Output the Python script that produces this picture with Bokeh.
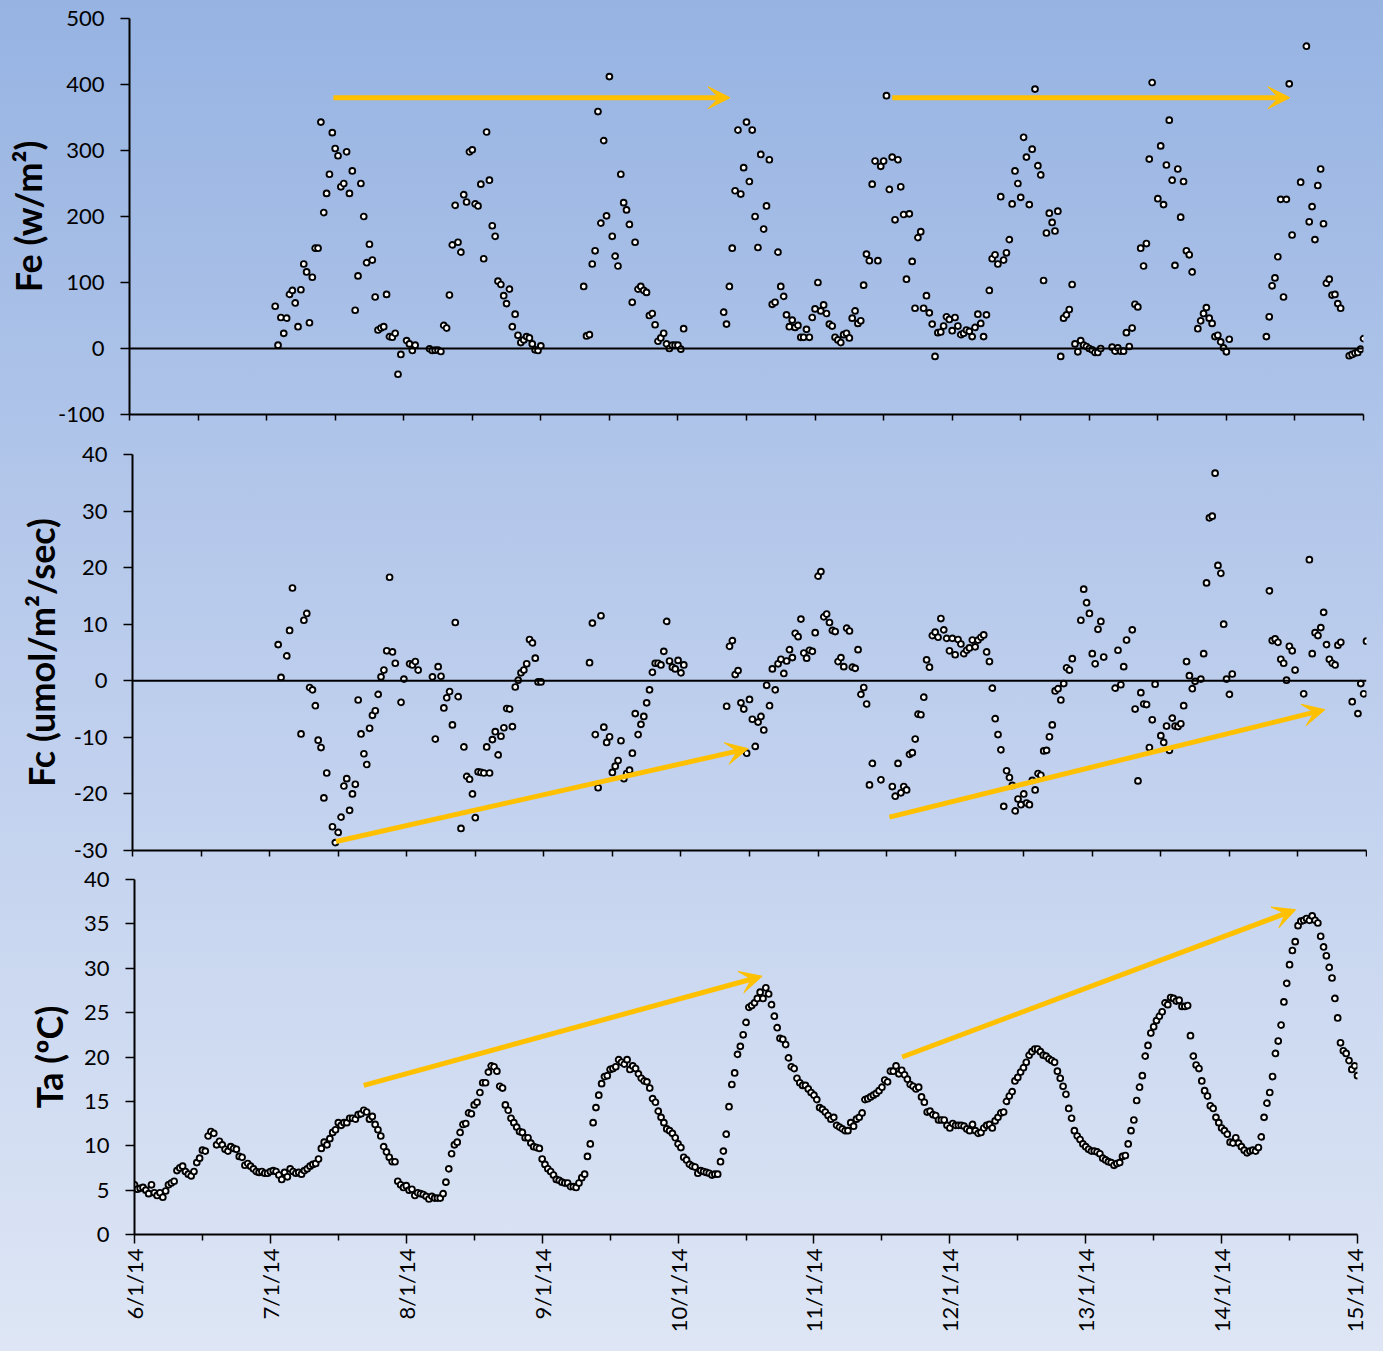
import math
from bokeh.plotting import figure
from bokeh.layouts import column, row
from bokeh.models import FixedTicker, Span, Arrow, VeeHead
from bokeh.embed import file_html
from bokeh.resources import INLINE

# ---------------- data (half-hourly index from 6/1/14 00:00, 48 per day) ----------------
STEPS_PER_DAY = 48
date_labels = ["6/1/14", "7/1/14", "8/1/14", "9/1/14", "10/1/14",
               "11/1/14", "12/1/14", "13/1/14", "14/1/14", "15/1/14"]
fe_ticks = [-100, 0, 100, 200, 300, 400, 500]
fc_ticks = [-30, -20, -10, 0, 10, 20, 30, 40]
ta_ticks = [0, 5, 10, 15, 20, 25, 30, 35, 40]

# Fe (w/m2) segments: start index, values (None = missing)
fe_starts = [51, 105, 159, 208, 330, 344, 360, 374, 398]
fe_s1 = [64, 5, 47, 23, 46, 82, 88, 69, 33, 89, 128, 116, 39, 108, 152, 152, 343, 206, 235, 264,
         327, 303, 292, 245, 250, 298, 235, 269, 58, 110, 250, 200, 130, 158, 134, 78, 28, 31, 33, 82,
         18, 17, 23, -39, -9, None, 12, 7, -3, 5]
fe_s2 = [-0.5, -3, -2.5, -2.5, -4.5, 35, 31, 81, 157, 217, 161, 146, 233, 222, 298, 301, 219, 216, 249, 136,
         328, 255, 186, 170, 102, 97, 80, 68, 90, 33, 52, 20, 9, 13, 18, 16, 7, -2, -3, 4]
fe_s3 = [94, 19, 21, 128, 148, 359, 190, 315, 201, 412, 170, 140, 125, 264, 221, 210, 188, 70, 161, 90,
         94, 88, 85, 50, 53, 36, 11, 16, 23, 7, 0, 5, 5, 5, -1, 30]
fe_s4 = [55, 37, 94, 152, 239, 331, 234, 274, 343, 253, 331, 200, 153, 294, 181, 216, 286, 67, 70, 146,
         94, 79, 51, 33, 43, 32, 35, 17, 17, 29, 17, 47, 60, 100, 57, 66, 53, 37, 34, 17,
         13, 9, 21, 23, 16, 46, 57, 38, 42, 96, 143, 133, 249, 284, 133, 276, 284, 383, 241, 290,
         195, 286, 245, 203, 105, 204, 132, 61, 168, 177, 61, 80, 54, 37, -12, 24, 25, 34, 48, 44,
         27, 47, 34, 21, 23, 28, 26, 18, 32, 52, 38, 18, 51, 88, 136, 142, 128, 230, 134, 145,
         165, 219, 269, 250, 229, 320, 290, 218, 302, 393, 277, 263, 103, 175, 205, 191, 178, 208, -12, 46,
         51, 59]
fe_s5 = [97, 7, -5, 12, 5, 3, 0, -2, -6, -6, 0]
fe_s6 = [2, -4, 1, -4, -4, 24, 3, 31, 67, 63, 152, 125, 159, 287, 403]
fe_s7 = [227, 307, 218, 278, 346, 255, 126, 272, 199, 253, 148, 142, 116]
fe_s8 = [30, 42, 53, 62, 46, 38, 18, 20, 10, 1, -5, 14]
fe_s9 = [18, 48, 95, 107, 139, 226, 78, 226, 401, 172, None, None, 252, None, 458, 192, 215, 165, 247, 272,
         189, 99, 105, 81, 82, 68, 61, None, None, -11, -9, -7, -6, -1, 15]

# Fc (umol/m2/sec) segments
fc_starts = [51, 105, 160, 208, 262, 266, 324, 332, 344, 398]
fc_s1 = [6.4, 0.6, None, 4.4, 8.9, 16.4, None, None, -9.4, 10.7, 11.9, -1.2, -1.6, -4.4, -10.5, -11.8, -20.7, -16.3, None, -25.8,
         -28.6, -26.8, -24.1, -18.6, -17.3, -22.9, -20.0, -18.3, -3.4, -9.4, -12.9, -14.8, -8.4, -6.1, -5.3, -2.4, 0.7, 1.9, 5.3, 18.3,
         5.1, 3.1, None, -3.8, 0.3, None, 3.0, 2.8, 3.4, 1.9]
fc_s2 = [0.7, -10.3, 2.5, 0.8, -4.8, -3.0, -1.9, -7.8, 10.3, -2.8, -26.1, -11.7, -16.9, -17.4, -20.0, -24.2, -16.1, -16.2, -16.3, -11.7,
         -16.3, -10.4, -9.0, -13.1, -9.8, -8.3, -4.9, -5.0, -8.1, -1.1, 0.1, 1.4, 1.9, 3.0, 7.3, 6.7, 4.0, -0.2, -0.2]
fc_s3 = [3.2, 10.2, -9.5, -18.9, 11.5, -8.2, -10.9, -9.9, -16.2, -15.1, -14.1, -10.6, -17.3, -16.4, -15.8, -12.8, -5.8, -9.5, -7.7, -6.3,
         -3.9, -1.6, 1.5, 3.1, 3.1, 2.8, 5.2, 10.5, 3.5, 2.4, 2.1, 3.6, 1.4, 2.8]
fc_s4 = [-4.5, 6.1, 7.1, 1.1, 1.8, -3.9, -5.0, -12.8, -3.3, -6.8, -11.6, -7.3, -6.3, -8.7, -0.8, -4.4, 2.1, -1.6, 3.0, 3.8,
         1.3, 3.5, 5.5, 4.1, 8.4, 7.8, 10.9, 4.9, 4.0, 5.4, 5.2, 8.5, 18.5, 19.3, 11.3, 11.8, 10.3, 8.9, 8.7, 3.4,
         4.1, 2.5, 9.3, 8.8, 2.4, 2.2, 5.5, -2.4, -1.2, -4.1, -18.4, -14.6]
fc_s5 = [-17.5]
fc_s6 = [-18.7, -20.4, -14.6, -19.8, -18.7, -19.3, -13.0, -12.7, -10.3, -5.9, -6.0, -2.9, 3.7, 2.4, 8.0, 8.6, 7.7, 11.0, 9.0, 7.5,
         5.3, 7.5, 4.6, 7.3, 6.5, 4.8, 5.4, 5.8, 7.2, 6.0, 7.2, 7.7, 8.1, 5.1, 3.4, -1.3, -6.7, -9.5, -12.2, -22.2,
         -15.9, -17.1, -18.5, -23.0, -20.9, -21.9, -20.0, -21.6, -21.9, -17.6, -19.3, -16.4, -16.7, -12.4, -12.3, -9.9, -7.8, -1.8]
fc_s7 = [-1.4, -3.4, -0.5, 2.3, 1.9, 3.9]
fc_s8 = [10.7, 16.2, 13.8, 11.9, 4.8, 3.0, 9.1, 10.5, 4.2]
fc_s9 = [-1.3, 5.4, -0.7, 2.5, 7.2, None, 9.0, -5.0, -17.7, -2.1, -4.1, -4.2, -11.8, -6.9, -0.6, None, -9.7, -10.9, -8.0, -12.3,
         -6.6, -8.0, -8.1, -7.6, -4.4, 3.4, 0.9, -1.4, -0.1, None, 0.3, 4.8, 17.3, 28.8, 29.1, 36.7, 20.4, 19.0, 10.0, 0.3,
         -2.4, 1.2]
fc_s10 = [15.9, 7.1, 7.4, 6.8, 3.8, 3.1, 0.1, 6.1, 5.3, 1.9, None, None, -2.3, None, 21.4, 4.8, 8.5, 8.0, 9.4, 12.1,
          6.4, 3.8, 3.1, 2.8, 6.3, 6.8, None, None, None, -3.7, None, -5.8, -0.5, -2.3, 7.0]

# Ta (deg C), continuous from index 0
ta_starts = [0, 125, 129, 139, 285]
ta_s1 = [5.6, 5.1, 5.2, 5.3, 5.0, 4.6, 5.6, 4.7, 4.4, 4.7, 4.2, 4.9, 5.6, 5.8, 6.0, 7.2, 7.5, 7.7, 7.1, 6.8,
         6.6, 7.1, 8.1, 8.6, 9.5, 9.4, 11.1, 11.6, 11.4, 10.1, 10.5, 10.1, 9.6, 9.4, 9.9, 9.7, 9.6, 8.8, 8.7, 7.8,
         8.0, 7.7, 7.4, 7.1, 7.0, 7.1, 6.9, 6.9, 7.1, 7.2, 7.1, 6.7, 6.2, 7.0, 6.5, 7.4, 7.1, 6.9, 7.0, 6.8,
         7.2, 7.4, 7.7, 7.9, 8.0, 8.5, 9.7, 10.4, 10.1, 10.8, 11.5, 11.8, 12.6, 12.3, 12.6, 12.6, 13.1, 13.1, 13.0, 13.5,
         13.6, 14.0, 13.8, 13.0, 13.3, 12.4, 11.8, 11.1, 9.9, 9.3, 8.7, 8.2, 8.2, 6.0, 5.6, 5.3, 5.5, 5.0, 5.1, 4.4,
         4.7, 4.6, 4.5, 4.3, 4.0, 4.3, 4.1, 4.1, 4.1, 4.6, 5.9, 7.4, 9.1, 10.1, 10.4, 11.5, 12.4, 12.5, 13.7, 13.6,
         14.6, 14.9, 16.0, 17.1, 17.1]
ta_s2 = [18.3, 19.0, 18.9, 18.4]
ta_s3 = [16.7, 16.5, 14.6, 14.0, 13.1, 12.6, 12.1, 11.6, 11.5, 10.9]
ta_s4 = [10.9, 10.3, 9.9, 9.8, 9.7, 8.5, 7.9, 7.4, 7.1, 6.7, 6.2, 6.1, 5.9, 5.8, 5.8, 5.4, 5.4, 5.3, 5.8, 6.4,
         6.8, 8.8, 10.2, 12.6, 14.3, 15.7, 17.0, 17.8, 17.9, 18.6, 18.7, 18.9, 19.7, 19.4, 19.2, 19.7, 18.6, 19.0, 18.7, 18.1,
         17.6, 17.3, 17.2, 16.5, 15.3, 14.9, 13.9, 13.2, 12.6, 11.9, 11.7, 11.4, 10.9, 10.2, 9.8, 8.7, 8.4, 7.9, 7.7, 7.6,
         6.9, 7.2, 7.1, 7.0, 6.9, 6.7, 6.8, 6.8, 8.2, 9.4, 11.3, 14.4, 16.9, 18.2, 20.3, 21.2, 22.5, 23.9, 25.6, 25.8,
         26.1, 26.6, 27.3, 26.6, 27.8, 27.1, 25.9, 24.6, 23.3, 22.1, 22.0, 21.4, 19.9, 18.9, 18.7, 17.6, 17.1, 16.8, 16.8, 16.4,
         16.0, 15.7, 15.2, 14.3, 14.1, 13.8, 13.4, 13.0, 13.2, 12.3, 12.1, 11.9, 11.7, 11.7, 12.6, 12.2, 13.0, 13.2, 13.7, 15.2,
         15.3, 15.5, 15.7, 15.9, 16.2, 16.6, 17.4, 17.2, 18.4, 18.4, 19.0, 18.1, 18.5, 18.0, 17.5, 16.9, 16.7, 16.4, 16.6, 15.5,
         14.9, 13.8, 13.9, 13.5, 13.4, 12.9]
ta_s5 = [12.9, 12.9, 12.3, 12.0, 12.5, 12.3, 12.3, 12.3, 12.2, 11.9, 11.7, 12.4, 11.7, 11.4, 11.5, 12.0, 12.3, 12.4, 12.0, 12.8,
         13.2, 13.7, 13.8, 15.0, 15.6, 16.1, 17.3, 17.7, 18.3, 18.8, 19.4, 20.2, 20.6, 20.9, 20.9, 20.6, 20.2, 20.1, 19.8, 19.6,
         19.4, 18.4, 17.6, 16.7, 15.8, 14.2, 13.1, 11.7, 11.1, 10.7, 10.2, 9.9, 9.6, 9.4, 9.4, 9.3, 9.1, 8.6, 8.4, 8.2,
         8.1, 7.8, 8.0, 8.1, 8.8, 8.9, 10.2, 11.7, 12.9, 15.1, 16.6, 17.9, 20.1, 21.3, 22.7, 23.4, 24.1, 24.6, 25.1, 26.1,
         25.9, 26.7, 26.6, 26.3, 26.4, 25.7, 25.7, 25.8, 22.4, 20.1, 19.1, 18.7, 17.3, 16.2, 15.6, 14.5, 14.2, 13.2, 12.6, 12.0,
         11.7, 11.3, 10.4, 10.3, 10.9, 10.3, 9.9, 9.5, 9.2, 9.4, 9.5, 9.4, 9.8, 11.0, 13.2, 14.8, 16.0, 17.8, 20.4, 21.8,
         23.6, 26.2, 28.3, 30.4, 32.0, 33.0, 34.8, 35.3, 35.4, 35.6, 35.4, 35.9, 35.4, 35.1, 33.6, 32.4, 31.4, 30.1, 28.9, 26.6,
         24.4, 21.6, 20.7, 20.4, 19.6, 18.6, 19.0, 17.9]

# yellow trend arrows: (x_start, y_start) -> (x_end, y_end), in days / panel units
fe_arrow_x0 = [1.487, 5.563]
fe_arrow_y0 = [380, 380]
fe_arrow_x1 = [4.38, 8.463]
fe_arrow_y1 = [380, 380]
fc_arrow_x0 = [1.485, 5.521]
fc_arrow_y0 = [-28.4, -24.1]
fc_arrow_x1 = [4.49, 8.697]
fc_arrow_y1 = [-12.0, -5.1]
ta_arrow_x0 = [1.687, 5.649]
ta_arrow_y0 = [16.8, 20.0]
ta_arrow_x1 = [4.619, 8.545]
ta_arrow_y1 = [29.1, 36.6]


def expand(starts, segs):
    xs, ys = [], []
    for st, seg in zip(starts, segs):
        for i, v in enumerate(seg):
            if v is None:
                continue
            xs.append((st + i) / STEPS_PER_DAY)
            ys.append(v)
    return xs, ys


fe_x, fe_y = expand(fe_starts, [fe_s1, fe_s2, fe_s3, fe_s4, fe_s5, fe_s6, fe_s7, fe_s8, fe_s9])
fc_x, fc_y = expand(fc_starts, [fc_s1, fc_s2, fc_s3, fc_s4, fc_s5, fc_s6, fc_s7, fc_s8, fc_s9, fc_s10])
ta_x, ta_y = expand(ta_starts, [ta_s1, ta_s2, ta_s3, ta_s4, ta_s5])

FONT = "Lato"
ARROW_COLOR = "#FFC000"
W = 1367


def make_fig(height, left, right, top, bottom, yrange, yticks, ylabel, label_standoff, show_dates):
    p = figure(width=W, height=height, x_range=(0, 9), y_range=yrange,
               output_backend="svg", toolbar_location=None,
               min_border_left=left, min_border_right=right,
               min_border_top=top, min_border_bottom=bottom)
    p.background_fill_alpha = 0
    p.border_fill_alpha = 0
    p.outline_line_color = None
    p.grid.visible = False

    ya = p.yaxis[0]
    ya.ticker = FixedTicker(ticks=yticks, minor_ticks=[])
    ya.major_label_overrides = {t: str(t) for t in yticks}
    ya.axis_line_color = "black"
    ya.axis_line_width = 2
    ya.major_tick_line_color = "black"
    ya.major_tick_line_width = 1.5
    ya.major_tick_out = 9
    ya.major_tick_in = 0
    ya.minor_tick_line_color = None
    ya.major_label_text_font = FONT
    ya.major_label_text_font_size = "22px"
    ya.major_label_text_color = "black"
    ya.major_label_standoff = 16
    ya.axis_label = ylabel
    ya.axis_label_text_font = FONT
    ya.axis_label_text_font_size = "36px"
    ya.axis_label_text_font_style = "bold"
    ya.axis_label_text_color = "black"
    ya.axis_label_standoff = label_standoff

    xa = p.xaxis[0]
    xa.axis_line_color = "black"
    xa.axis_line_width = 2
    xa.major_tick_in = 0
    xa.minor_tick_in = 0
    xa.major_tick_line_color = "black"
    xa.major_tick_line_width = 1.5
    xa.minor_tick_line_color = "black"
    xa.minor_tick_line_width = 1.5
    if show_dates:
        xa.ticker = FixedTicker(ticks=list(range(10)),
                                minor_ticks=[d + 0.5 for d in range(9)])
        xa.major_tick_out = 9
        xa.minor_tick_out = 6
        xa.major_label_overrides = {i: lab for i, lab in enumerate(date_labels)}
        xa.major_label_orientation = math.pi / 2
        xa.major_label_text_font = FONT
        xa.major_label_text_font_size = "22px"
        xa.major_label_text_color = "black"
        xa.major_label_standoff = 5
    else:
        # unlabeled half-day ticks (drawn as minor ticks so no empty labels are emitted)
        xa.ticker = FixedTicker(ticks=[], minor_ticks=[d * 0.5 for d in range(19)])
        xa.major_tick_out = 0
        xa.minor_tick_out = 6
    return p


def add_arrows(p, x0, y0, x1, y1):
    for a, b, c, d in zip(x0, y0, x1, y1):
        p.add_layout(Arrow(x_start=a, y_start=b, x_end=c, y_end=d,
                           line_color=ARROW_COLOR, line_width=5,
                           end=VeeHead(size=22, fill_color=ARROW_COLOR, line_color=ARROW_COLOR,
                                       line_width=1)))


MARK = dict(size=5.8, fill_color="white", line_color="black", line_width=1.9)

# figure geometry: (height, left, right, top, bottom)
p1 = make_fig(432, 129, 4, 18, 18, (-100, 500), fe_ticks, "Fe (w/m²)", 5, False)
p1.add_layout(Span(location=0, dimension="width", line_color="black", line_width=2))
add_arrows(p1, fe_arrow_x0, fe_arrow_y0, fe_arrow_x1, fe_arrow_y1)
p1.scatter(fe_x, fe_y, marker="circle", **MARK)

p2 = make_fig(434, 132, 1, 22, 16, (-30, 40), fc_ticks, "Fc (umol/m²/sec)", 8, False)
p2.add_layout(Span(location=0, dimension="width", line_color="black", line_width=2))
add_arrows(p2, fc_arrow_x0, fc_arrow_y0, fc_arrow_x1, fc_arrow_y1)
p2.scatter(fc_x, fc_y, marker="circle", **MARK)

p3 = make_fig(469, 134, 10, 13, 100, (0, 40), ta_ticks, "Ta (ºC)", 10, True)
add_arrows(p3, ta_arrow_x0, ta_arrow_y0, ta_arrow_x1, ta_arrow_y1)
p3.scatter(ta_x, ta_y, marker="circle", **MARK)

layout = column(row(p1), row(p2), row(p3), spacing=0)

html = file_html(layout, INLINE, title="Fe Fc Ta")
style = ("<style>html{background:linear-gradient(180deg,#96b3e2 0%,#b9cbec 45%,#dee6f5 100%) fixed;"
         "min-height:100%;}body{background:transparent;}</style>")
html = html.replace("</head>", style + "</head>", 1)
open("out.html", "w").write(html)
